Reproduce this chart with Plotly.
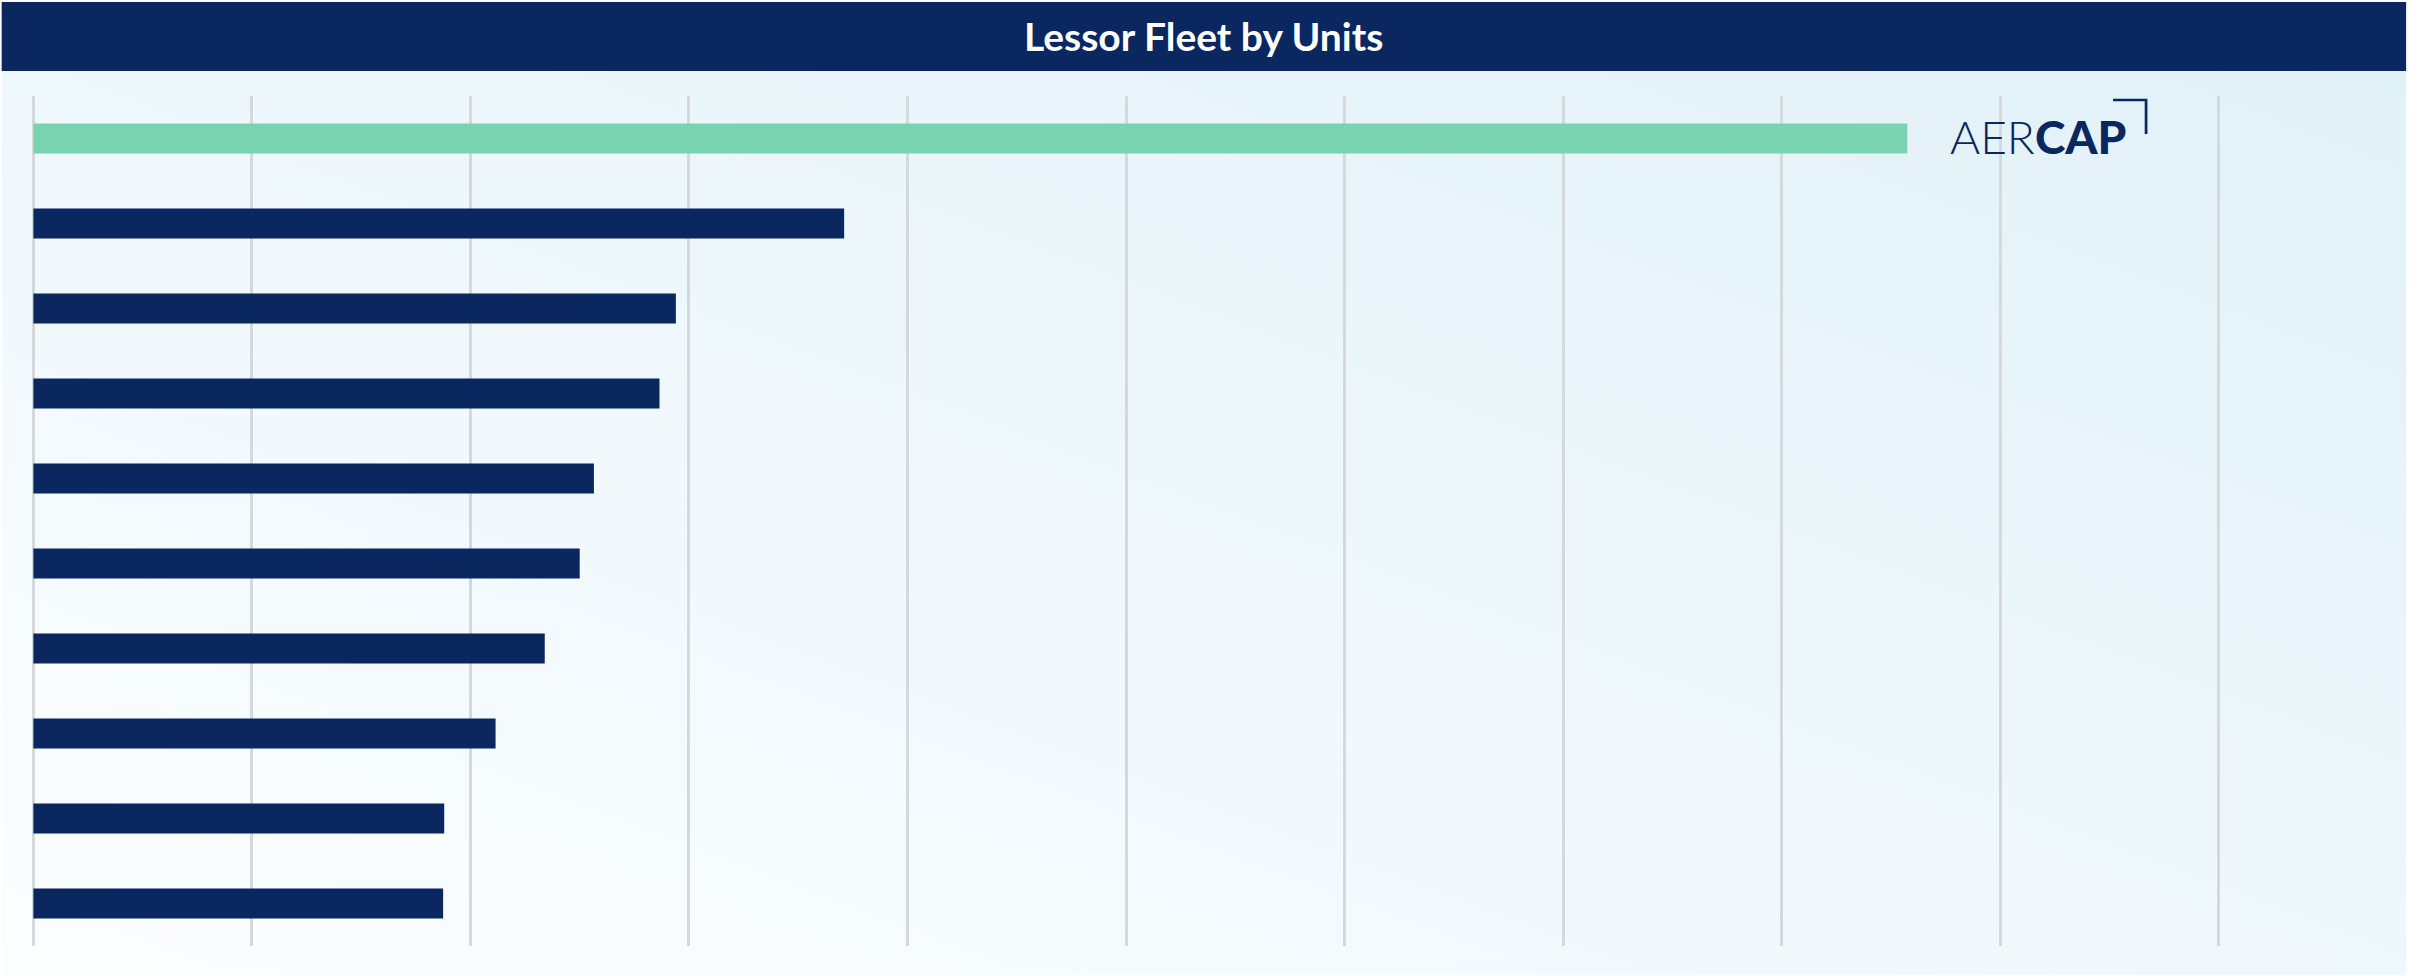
import base64
import plotly.graph_objects as go

# ---- data ----
lessors = ["AerCap", "Lessor 2", "Lessor 3", "Lessor 4", "Lessor 5",
           "Lessor 6", "Lessor 7", "Lessor 8", "Lessor 9", "Lessor 10"]
units = [1715, 742, 588, 573, 513, 500, 468, 423, 376, 375]
highlight = "AerCap"
title_text = "Lessor Fleet by Units"

NAVY = "#0A2760"
GREEN = "#7AD3B0"
GRID = "#D6D9DC"

W, H = 2420, 976
L, R = 29.33, 2327.9   # plot area left/right in px
T, B = 96.0, 946.5     # plot area top/bottom in px


def px(xp):
    return (xp - L) / (R - L)


def py(yp):
    return (B - yp) / (B - T)


colors = [GREEN if n == highlight else NAVY for n in lessors]

fig = go.Figure(go.Bar(
    x=units, y=lessors, orientation="h",
    marker=dict(color=colors, line=dict(width=0)),
    hoverinfo="x+y",
))

# gradient background as svg image
svg = ('<svg xmlns="http://www.w3.org/2000/svg" width="100" height="100" '
       'viewBox="0 0 100 100" preserveAspectRatio="none">'
       '<defs><linearGradient id="g" x1="0" y1="1" x2="1" y2="0">'
       '<stop offset="0" stop-color="#FCFEFF"/>'
       '<stop offset="1" stop-color="#E1F1F8"/>'
       '</linearGradient></defs>'
       '<rect x="0" y="0" width="100" height="100" fill="url(#g)"/></svg>')
src = "data:image/svg+xml;base64," + base64.b64encode(svg.encode()).decode()

x_left, x_right = 2.0, 2406.0
fig.add_layout_image(dict(
    source=src, xref="paper", yref="paper",
    x=px(x_left), y=py(71), sizex=px(x_right) - px(x_left), sizey=py(71) - py(976),
    xanchor="left", yanchor="top", sizing="stretch", layer="below",
))

# title bar
fig.add_shape(type="rect", xref="paper", yref="paper",
              x0=px(x_left), x1=px(x_right), y0=py(71), y1=py(2),
              fillcolor=NAVY, line=dict(width=0), layer="above")

fig.add_annotation(text="<b>" + title_text + "</b>", xref="paper", yref="paper",
                   x=px(1204), y=py(36), xanchor="center", yanchor="middle",
                   showarrow=False, font=dict(family="Lato", size=39, color="white"))

# logo
fig.add_annotation(text="AER", xref="paper", yref="paper",
                   x=px(1948), y=py(137), xanchor="left", yanchor="middle",
                   showarrow=False,
                   font=dict(family="Lato", size=46, color=NAVY, weight=300))
fig.add_annotation(text="CAP", xref="paper", yref="paper",
                   x=px(2128), y=py(137), xanchor="right", yanchor="middle",
                   showarrow=False,
                   font=dict(family="Lato", size=46, color=NAVY, weight=900))
fig.add_shape(type="path", xref="paper", yref="paper",
              path=f"M {px(2113)} {py(100)} L {px(2146)} {py(100)} L {px(2146)} {py(134)}",
              line=dict(color=NAVY, width=2.7), layer="above")

fig.update_layout(
    width=W, height=H,
    margin=dict(l=L, r=W - R, t=T, b=H - B, pad=0),
    paper_bgcolor="white",
    plot_bgcolor="rgba(0,0,0,0)",
    bargap=0.647,
    showlegend=False,
    font=dict(family="Lato"),
)
fig.update_xaxes(range=[-4, 2100], dtick=200, tick0=0, showgrid=True,
                 gridcolor=GRID, gridwidth=2.5, zeroline=True,
                 zerolinecolor=GRID, zerolinewidth=2.5,
                 showticklabels=False, ticks="", showline=False)
fig.update_yaxes(autorange="reversed", showticklabels=False, ticks="",
                 showgrid=False, showline=False, zeroline=False)

fig.write_html("out.html",
               config={"displayModeBar": False},
               post_script="document.body.style.margin='0';"
                           "document.body.style.overflow='hidden';")
